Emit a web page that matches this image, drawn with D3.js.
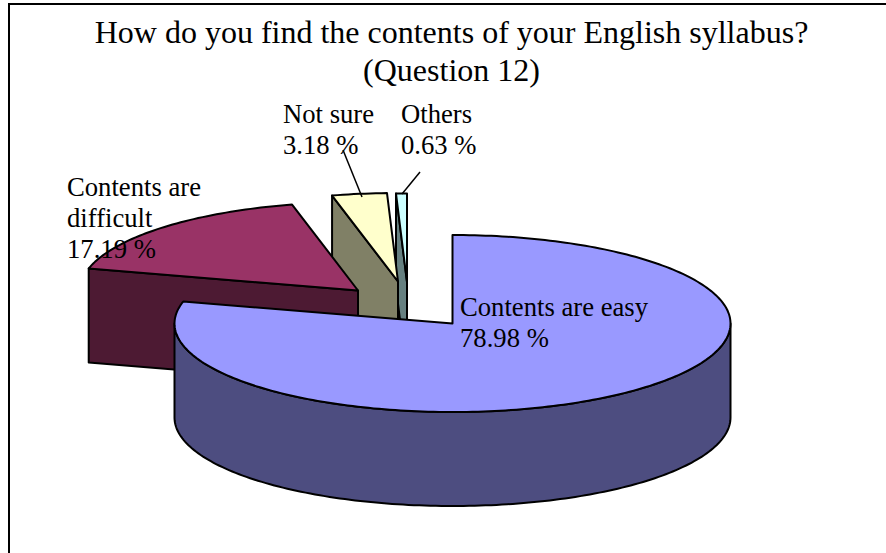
<!DOCTYPE html>
<html><head><meta charset="utf-8">
<script src="https://cdn.jsdelivr.net/npm/d3@7"></script>
<style>html,body{margin:0;padding:0;background:#fff}svg{display:block}text{font-family:"Liberation Serif","Times New Roman",serif;fill:#000}</style>
</head><body><div id="c"></div>
<script>
const categories = ["Contents are easy", "Contents are difficult", "Not sure", "Others"];
const values = [78.98, 17.19, 3.18, 0.63];
const topColors = ["#9999FF", "#993366", "#FFFFCC", "#CCFFFF"];
const sideColors = ["#4D4D80", "#4D1A33", "#808066", "#668080"];
const titleLines = ["How do you find the contents of your English syllabus?", "(Question 12)"];
const labelLines = [["Contents are easy"], ["Contents are", "difficult"], ["Not sure"], ["Others"]];

const W = 886, H = 553;
const cx = 452.5, cy = 323.5, rx = 278, ry = 88.5, depth = 94;
const explode = [[0,0],[-94.5,-33],[-54.5,-42],[-45.5,-41.5]];
const labelPos = [[460,316],[67,196],[283,123],[401,123]];
const lh = 31, fs = 26.67;

const svg = d3.select("#c").append("svg").attr("width",W).attr("height",H);
svg.append("path").attr("d",`M9,${H}V4H${W}`).attr("fill","none").attr("stroke","#000").attr("stroke-width",2);

svg.selectAll(".title").data(titleLines).join("text").attr("class","title")
  .attr("x",451.5).attr("y",(d,i)=>43+i*38).attr("text-anchor","middle").attr("font-size",32).text(d=>d);

const arcs = d3.pie().sort(null).startAngle(0).endAngle(2*Math.PI).value(d=>d)(values);
const px = (a,o) => cx+o[0]+rx*Math.sin(a);
const py = (a,o) => cy+o[1]-ry*Math.cos(a);
const line = d3.line();
const sample = (a0,a1) => { const n = Math.max(2,Math.ceil(Math.abs(a1-a0)/0.02)); return d3.range(n+1).map(i=>a0+(a1-a0)*i/n); };

const g = svg.append("g").attr("stroke","#000").attr("stroke-width",2).attr("stroke-linejoin","round");

// back to front
[3,2,1,0].forEach(i => {
  const s = arcs[i], o = explode[i];
  const ax = cx+o[0], ay = cy+o[1];
  const side = sideColors[i];
  if (i === 0) {
    const a = sample(Math.PI/2, Math.min(s.endAngle,3*Math.PI/2));
    const top = a.map(t=>[px(t,o),py(t,o)]);
    const bot = a.map(t=>[px(t,o),py(t,o)+depth]).reverse();
    g.append("path").attr("d",line(top.concat(bot))+"Z").attr("fill",side);
  } else {
    const sx = px(s.startAngle,o), sy = py(s.startAngle,o);
    g.append("path").attr("d",line([[sx,sy],[ax,ay],[ax,ay+depth],[sx,sy+depth]])+"Z").attr("fill",side);
  }
  const rim = sample(s.startAngle,s.endAngle).map(t=>[px(t,o),py(t,o)]);
  g.append("path").attr("d",line([[ax,ay]].concat(rim))+"Z").attr("fill",topColors[i]);
});

const leaders = [[[343,150],[362,197]],[[420,172],[402,194]]];
svg.selectAll(".leader").data(leaders).join("path").attr("class","leader")
  .attr("d",d=>line(d)).attr("stroke","#000").attr("stroke-width",1.5).attr("fill","none");

categories.forEach((c,i)=>{
  const lines = labelLines[i].concat([values[i].toFixed(2)+" %"]);
  const t = svg.append("text").attr("font-size",fs);
  lines.forEach((l,j)=>t.append("tspan").attr("x",labelPos[i][0]).attr("y",labelPos[i][1]+j*lh).text(l));
});
</script></body></html>
